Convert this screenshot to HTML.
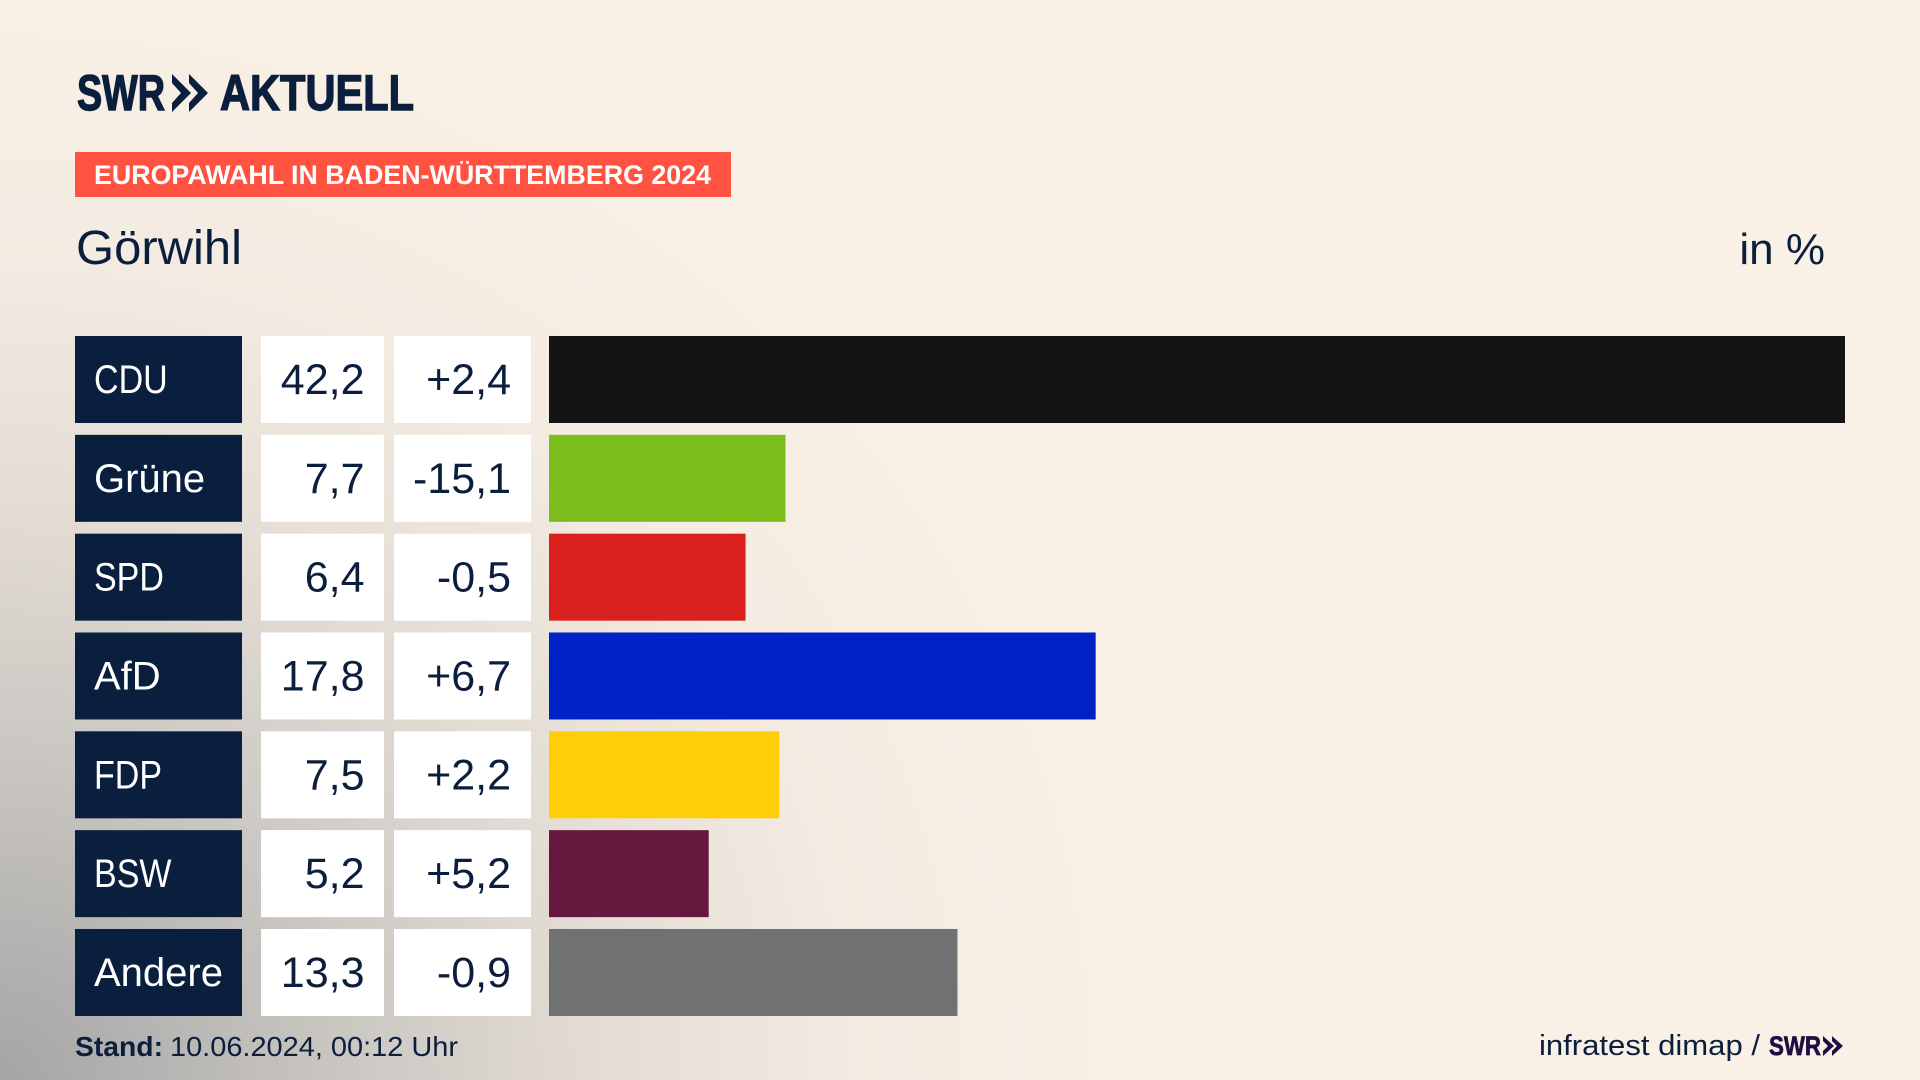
<!DOCTYPE html>
<html lang="de">
<head>
<meta charset="utf-8">
<title>Europawahl in Baden-Württemberg 2024 – Görwihl</title>
<style>
  html, body { margin: 0; padding: 0; width: 1920px; height: 1080px; overflow: hidden; background: #faf1e6; }
  #chart-page {
    position: relative; width: 1920px; height: 1080px; overflow: hidden;
    background:
      radial-gradient(ellipse 1180px 1130px at 0px 1080px,
        rgba(165,165,165,1) 0%, rgba(198,195,191,.95) 28%, rgba(220,214,207,.78) 50%,
        rgba(236,229,220,.5) 72%, rgba(250,241,230,0) 100%),
      #faf1e6;
  }
  svg { position: absolute; left: 0; top: 0; display: block; }
  text { font-family: "Liberation Sans", sans-serif; fill: #0b1f3d; }
  .label-box { fill: #0a1f3e; }
  .cell-box { fill: #ffffff; }
  .label-text { fill: #ffffff; font-size: 40px; }
  .num-text { font-size: 43px; text-anchor: end; }
  .logo-text { stroke: #0a1f3e; stroke-width: 1.4px; }
  .bar-cdu { fill: #141414; }
  .bar-grüne { fill: #7bbd1a; }
  .bar-spd { fill: #d8201c; }
  .bar-afd { fill: #0021c6; }
  .bar-fdp { fill: #ffce09; }
  .bar-bsw { fill: #66183f; }
  .bar-andere { fill: #707173; }
</style>
</head>
<body>
<div id="chart-page">
<svg id="chart" width="1920" height="1080" viewBox="0 0 1920 1080" xmlns="http://www.w3.org/2000/svg">
  <g>
    <text class="logo-text" x="77" y="110" font-size="50" font-weight="700" textLength="88" lengthAdjust="spacingAndGlyphs">SWR</text>
    <polygon points="172,74 191,93 172,112 172,103 181,93 172,83" fill="#0a1f3e"/>
    <polygon points="189,74 208,93 189,112 189,103 198,93 189,83" fill="#0a1f3e"/>
    <text class="logo-text" x="220" y="110" font-size="50" font-weight="700" textLength="194" lengthAdjust="spacingAndGlyphs">AKTUELL</text>
  </g>
  <rect x="75" y="152" width="656" height="45" fill="#ff5240"/>
  <text x="94" y="184" font-size="27" font-weight="700" style="fill:#fff" textLength="617" lengthAdjust="spacingAndGlyphs">EUROPAWAHL IN BADEN-WÜRTTEMBERG 2024</text>
  <text x="76" y="264" font-size="48" textLength="166" lengthAdjust="spacingAndGlyphs">Görwihl</text>
  <text x="1825" y="264" font-size="44" text-anchor="end">in %</text>
  <g id="rows"></g>
  <text x="75" y="1056" font-size="28" font-weight="700" textLength="88" lengthAdjust="spacingAndGlyphs">Stand:</text>
  <text x="170" y="1056" font-size="28" textLength="288" lengthAdjust="spacingAndGlyphs">10.06.2024, 00:12 Uhr</text>
  <text x="1539" y="1055" font-size="29" textLength="221" lengthAdjust="spacingAndGlyphs">infratest dimap /</text>
  <g>
    <text x="1769" y="1055" font-size="27" font-weight="700" textLength="52" lengthAdjust="spacingAndGlyphs" style="fill:#1e0e45;stroke:#1e0e45;stroke-width:.7px">SWR</text>
    <polygon points="1823,1036 1834,1046 1823,1056 1823,1051 1828,1046 1823,1041" fill="#1e0e45"/>
    <polygon points="1832,1036 1843,1046 1832,1056 1832,1051 1837,1046 1832,1041" fill="#1e0e45"/>
  </g>
</svg>
</div>
<script>
const categories = ["CDU", "Grüne", "SPD", "AfD", "FDP", "BSW", "Andere"];
const shareValues = [42.2, 7.7, 6.4, 17.8, 7.5, 5.2, 13.3];
const changeValues = [2.4, -15.1, -0.5, 6.7, 2.2, 5.2, -0.9];

const SVG_NS = "http://www.w3.org/2000/svg";
const rowsGroup = document.getElementById("rows");
const axisMax = 42.2;
const barLeft = 549;
const barMaxWidth = 1296;
const rowTop = 336;
const rowPitch = 98.83;
const rowHeight = 87;

function xScale(v) { return v / axisMax * barMaxWidth; }
function yScale(i) { return rowTop + i * rowPitch; }
function formatShare(v) { return v.toFixed(1).replace(".", ","); }
function formatChange(v) { return (v > 0 ? "+" : "") + v.toFixed(1).replace(".", ","); }
function slug(s) { return s.toLowerCase(); }

function makeRect(x, y, w, h, cls) {
  const r = document.createElementNS(SVG_NS, "rect");
  r.setAttribute("x", x);
  r.setAttribute("y", y);
  r.setAttribute("width", w);
  r.setAttribute("height", h);
  r.setAttribute("class", cls);
  return r;
}
function makeText(x, y, str, cls) {
  const t = document.createElementNS(SVG_NS, "text");
  t.setAttribute("x", x);
  t.setAttribute("y", y);
  t.setAttribute("class", cls);
  t.textContent = str;
  return t;
}

categories.forEach(function (cat, i) {
  const y = yScale(i);
  const key = slug(cat);

  const labelBox = makeRect(75, y, 167, rowHeight, "label-box");
  
  
  rowsGroup.appendChild(labelBox);

  const label = makeText(94, y + 57, cat, "label-text");
  
  
  rowsGroup.appendChild(label);
  if (cat === cat.toUpperCase()) {
    label.setAttribute("textLength", (label.getComputedTextLength() * 0.85).toFixed(1));
    label.setAttribute("lengthAdjust", "spacingAndGlyphs");
  }

  const shareBox = makeRect(261, y, 123, rowHeight, "cell-box");
  
  
  rowsGroup.appendChild(shareBox);

  const share = makeText(364.5, y + 58, formatShare(shareValues[i]), "num-text");
  
  
  rowsGroup.appendChild(share);

  const changeBox = makeRect(394, y, 137, rowHeight, "cell-box");
  
  
  rowsGroup.appendChild(changeBox);

  const change = makeText(511, y + 58, formatChange(changeValues[i]), "num-text");
  
  
  rowsGroup.appendChild(change);

  const bar = makeRect(barLeft, y, xScale(shareValues[i]), rowHeight, "bar-" + key);
  
  
  rowsGroup.appendChild(bar);
});
</script>
</body>
</html>
